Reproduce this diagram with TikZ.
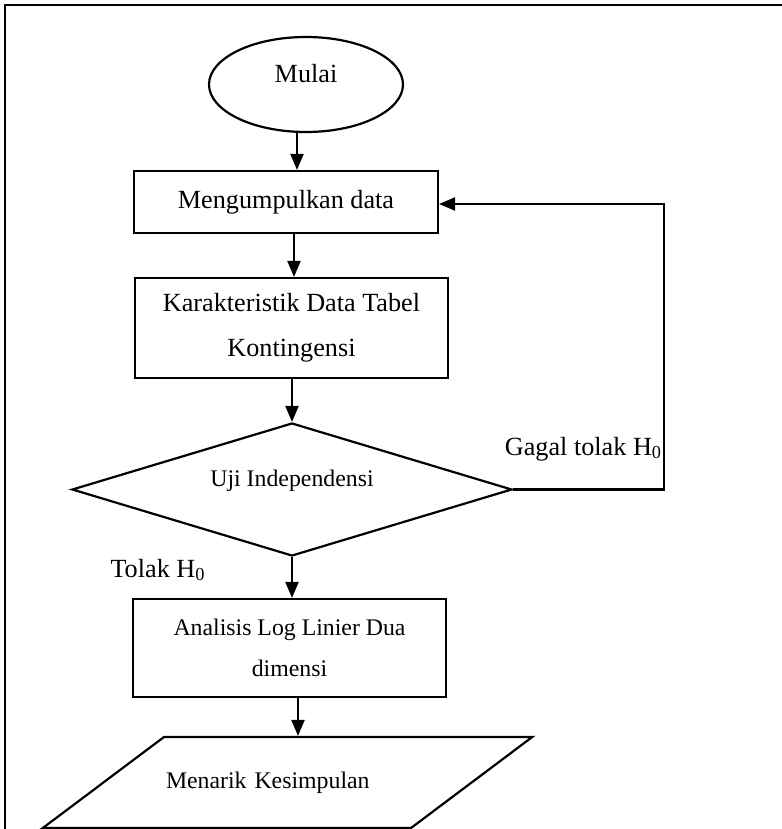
\documentclass[tikz,border=0pt]{standalone}
\usepackage{fontspec}
\setmainfont{Liberation Serif}
\usetikzlibrary{shapes.geometric,arrows.meta}

\begin{document}
\begin{tikzpicture}[x=0.5pt,y=-0.5pt,line width=1.1pt,
  >={Triangle[length=8pt,width=6.5pt]},
  big/.style={font=\fontsize{13.1}{22.5}\selectfont},
  small/.style={font=\fontsize{11.9}{20.5}\selectfont},
  terminal/.style={ellipse,draw,inner sep=0pt,minimum width=97pt,minimum height=47.5pt},
  process/.style={rectangle,draw,inner sep=0pt,align=center},
  decision/.style={diamond,draw,inner sep=0pt,minimum width=220pt,minimum height=66.5pt},
  output/.style={trapezium,draw,inner sep=0pt,trapezium left angle=36.9,trapezium right angle=143.1,
    text width=123.5pt,text height=25.5pt,text depth=20pt,align=left}]
\useasboundingbox (0,0) rectangle (781,829);
\draw (5,5) rectangle (830,870);
\node (1) at (306,84.5) [terminal,label={[big,yshift=5.25pt]center:Mulai}] {};
\node (2) at (286,202) [process,big,minimum width=152pt,minimum height=31pt] {Mengumpulkan data};
\node (3) at (291.5,328) [process,big,minimum width=156.5pt,minimum height=50pt] {Karakteristik Data Tabel\\Kontingensi};
\node (4) at (292,489.5) [decision,label={[small,yshift=4.5pt]center:Uji Independensi}] {};
\node (5) at (289.5,648) [process,small,minimum width=156.5pt,minimum height=49pt] {Analisis Log Linier Dua\\dimensi};
\node (6) at (287.5,782.5) [output,small] {\hspace*{1pt}Menarik Kesimpulan};
\coordinate (7) at (664,204);
\node (8) at (583.5,455) [big,anchor=base] {Gagal tolak H\textsubscript{0}};
\node (9) at (158,577) [big,anchor=base] {Tolak H\textsubscript{0}};
\draw[->] ([xshift=-4.5pt]1.south) -- ([xshift=-4.5pt]1.south |- 2.north);
\draw[->] ([xshift=4pt]2.south) -- ([xshift=4pt]2.south |- 3.north);
\draw[->] (3.south -| 4.north) -- (4.north);
\draw[->] (4.south) -- (4.south |- 5.north);
\draw[->] ([xshift=4.25pt]5.south) -- ([xshift=4.25pt]5.south |- 6.north);
\draw[->] (4.east) -| (7) -- (2.east |- 7);
\end{tikzpicture}
\end{document}
